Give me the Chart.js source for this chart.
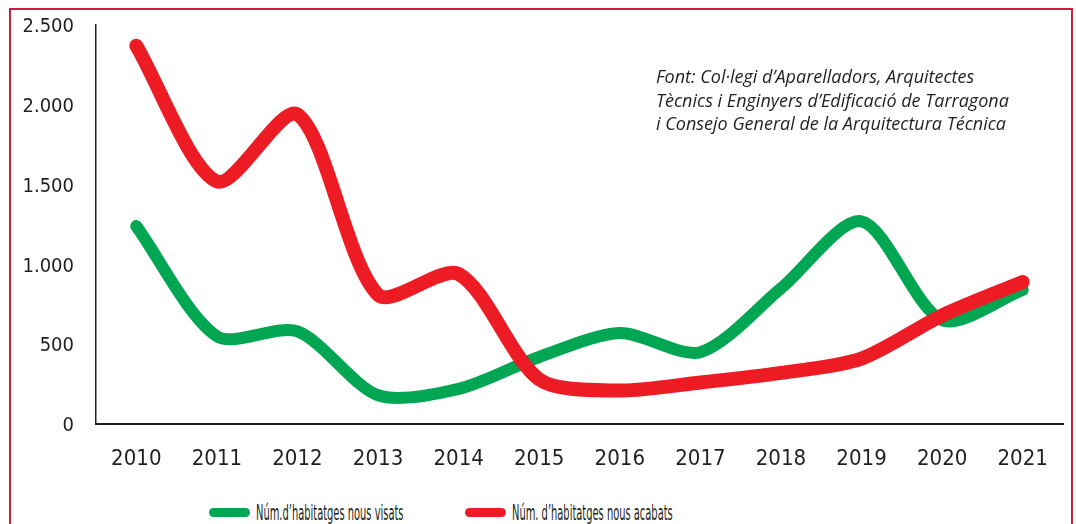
<!DOCTYPE html>
<html>
<head>
<meta charset="utf-8">
<script src="https://cdn.jsdelivr.net/npm/chart.js@4.4.1/dist/chart.umd.min.js"></script>
<style>
    html, body { margin: 0; padding: 0; background: #fff; }
    #wrap { position: relative; width: 1076px; height: 524px; overflow: hidden; }
    #frame {
        position: absolute; left: 9px; top: 8px; width: 1064px; height: 530px;
        border: 2px solid #c8203f; box-sizing: border-box;
    }
    #chart-box { position: absolute; left: 0; top: 0; width: 1076px; height: 475px; }
    #source {
        position: absolute; left: 656px; top: 65px;
        font-family: 'Open Sans', sans-serif; font-style: italic; font-size: 18px;
        line-height: 23.5px; color: #231f20;
    }
    .legend-item { position: absolute; top: 500px; height: 24px; display: flex; align-items: center; }
    .legend-item .swatch { width: 41px; height: 9px; border-radius: 5px; margin-right: 6px; flex: none; }
    .legend-item .txt {
        font-family: 'DejaVu Sans Condensed', 'Liberation Sans Narrow', sans-serif;
        font-size: 22px; color: #231f20; white-space: nowrap;
        transform: scaleX(0.5); transform-origin: left center;
    }
</style>
</head>
<body>
<div id="wrap">
    <div id="frame"></div>
    <div id="chart-box"><canvas id="habitatges"></canvas></div>
    <div id="source">
        Font: Col·legi d’Aparelladors, Arquitectes<br>
        Tècnics i Enginyers d’Edificació de Tarragona<br>
        i Consejo General de la Arquitectura Técnica
    </div>
    <div id="legend"></div>
</div>
<script>
const years = ['2010', '2011', '2012', '2013', '2014', '2015', '2016', '2017', '2018', '2019', '2020', '2021'];
const visats = [1240, 550, 580, 180, 220, 420, 570, 450, 850, 1270, 650, 840];
const acabats = [2370, 1520, 1940, 810, 940, 280, 210, 260, 320, 410, 680, 890];
const yTickLabels = ['0', '500', '1.000', '1.500', '2.000', '2.500'];

const GREEN = '#00a651';
const RED = '#ed1c24';
const AXIS = '#231f20';
const TICK_FONT = "'DejaVu Sans Condensed', 'Liberation Sans Narrow', sans-serif";

// order: la línia vermella queda per sobre de la verda
const series = [
    { label: 'Núm.d’habitatges nous visats', data: visats, color: GREEN, width: 12, order: 1, left: 209 },
    { label: 'Núm. d’habitatges nous acabats', data: acabats, color: RED, width: 14, order: 0, left: 465 }
];

// llegenda en html, a sota del gràfic
const legendBox = document.getElementById('legend');
series.forEach(s => {
    const item = document.createElement('div');
    item.classList.add('legend-item');
    item.style.left = s.left + 'px';
    item.innerHTML = `<div class="swatch" style="background:${s.color}"></div><span class="txt">${s.label}</span>`;
    legendBox.appendChild(item);
});

const ctx = document.getElementById('habitatges');

new Chart(ctx, {
    type: 'line',
    data: {
        labels: years,
        datasets: series.map(s => ({
            label: s.label,
            data: s.data,
            order: s.order,
            borderColor: s.color,
            backgroundColor: s.color,
            borderWidth: s.width,
            borderCapStyle: 'round',
            borderJoinStyle: 'round',
            pointRadius: 0,
            tension: 0.28,
            fill: false
        }))
    },
    options: {
        responsive: true,
        maintainAspectRatio: false,
        animation: false,
        layout: { autoPadding: false, padding: { left: 0, right: 13, top: 25, bottom: 0 } },
        plugins: {
            legend: { display: false },
            tooltip: { enabled: false }
        },
        scales: {
            x: {
                offset: true,
                grid: { display: false, drawTicks: false },
                border: { display: true, color: AXIS, width: 2 },
                ticks: {
                    color: AXIS,
                    padding: 22,
                    font: { family: TICK_FONT, size: 22 }
                },
                afterFit: (scale) => { scale.height = 51; }
            },
            y: {
                min: 0,
                max: 2500,
                grid: { display: false, drawTicks: false },
                border: { display: true, color: AXIS, width: 1.5 },
                ticks: {
                    stepSize: 500,
                    color: AXIS,
                    padding: 22,
                    labelOffset: 2,
                    font: { family: TICK_FONT, size: 20 },
                    callback: (value, index) => yTickLabels[index]
                },
                afterFit: (scale) => {
                    // el padding de les etiquetes no ha d'empènyer l'àrea del gràfic
                    scale.width = 96;
                    scale.paddingTop = 0;
                    scale.paddingBottom = 0;
                }
            }
        }
    }
});
</script>
</body>
</html>
